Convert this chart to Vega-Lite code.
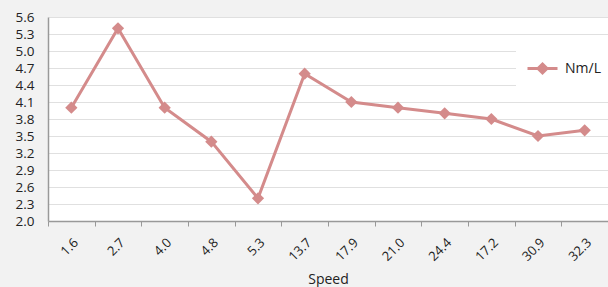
{
  "$schema": "https://vega.github.io/schema/vega-lite/v6.json",
  "autosize": "none",
  "padding": {"left": 48, "top": 17, "right": 0, "bottom": 66},
  "width": 560,
  "height": 204,
  "background": "#f2f2f2",
  "config": {
    "view": {"fill": "white", "stroke": null},
    "font": "Open Sans"
  },
  "data": {
    "values": [
      {"Speed": "1.6", "value": 4.0, "series": "Nm/L"},
      {"Speed": "2.7", "value": 5.4, "series": "Nm/L"},
      {"Speed": "4.0", "value": 4.0, "series": "Nm/L"},
      {"Speed": "4.8", "value": 3.4, "series": "Nm/L"},
      {"Speed": "5.3", "value": 2.4, "series": "Nm/L"},
      {"Speed": "13.7", "value": 4.6, "series": "Nm/L"},
      {"Speed": "17.9", "value": 4.1, "series": "Nm/L"},
      {"Speed": "21.0", "value": 4.0, "series": "Nm/L"},
      {"Speed": "24.4", "value": 3.9, "series": "Nm/L"},
      {"Speed": "17.2", "value": 3.8, "series": "Nm/L"},
      {"Speed": "30.9", "value": 3.5, "series": "Nm/L"},
      {"Speed": "32.3", "value": 3.6, "series": "Nm/L"}
    ]
  },
  "mark": {
    "type": "line",
    "strokeWidth": 3,
    "point": {"shape": "diamond", "size": 150, "filled": true, "opacity": 1}
  },
  "encoding": {
    "x": {
      "field": "Speed",
      "type": "ordinal",
      "sort": null,
      "scale": {"paddingInner": 0, "paddingOuter": 0},
      "axis": {
        "title": "Speed",
        "titleFontSize": 14,
        "titleFontWeight": "normal",
        "titleColor": "#222",
        "titlePadding": 9,
        "labelAngle": -45,
        "labelFontSize": 13,
        "labelColor": "#222",
        "labelPadding": 10,
        "tickBand": "extent",
        "ticks": true,
        "tickSize": 5,
        "tickColor": "#999",
        "domainColor": "#999",
        "domainWidth": 1.5,
        "grid": false
      }
    },
    "y": {
      "field": "value",
      "type": "quantitative",
      "scale": {"domain": [2.0, 5.6], "nice": false, "zero": false},
      "axis": {
        "title": null,
        "values": [2.0, 2.3, 2.6, 2.9, 3.2, 3.5, 3.8, 4.1, 4.4, 4.7, 5.0, 5.3, 5.6],
        "format": ".1f",
        "labelFontSize": 13.5,
        "labelColor": "#222",
        "labelPadding": 14,
        "ticks": false,
        "domainColor": "#999",
        "domainWidth": 1.5,
        "grid": true,
        "gridColor": "#e0e0e0",
        "gridWidth": 1
      }
    },
    "color": {
      "field": "series",
      "type": "nominal",
      "scale": {"range": ["#d48b8b"]},
      "legend": {
        "title": null,
        "orient": "none",
        "legendX": 468,
        "legendY": 25,
        "fillColor": "white",
        "padding": 10,
        "symbolType": "M-1,0H1M0,-0.3L0.3,0L0,0.3L-0.3,0Z",
        "symbolSize": 900,
        "symbolFillColor": "#d48b8b",
        "symbolStrokeColor": "#d48b8b",
        "symbolStrokeWidth": 3,
        "labelFontSize": 14,
        "labelColor": "#222",
        "labelOffset": 6
      }
    }
  }
}
